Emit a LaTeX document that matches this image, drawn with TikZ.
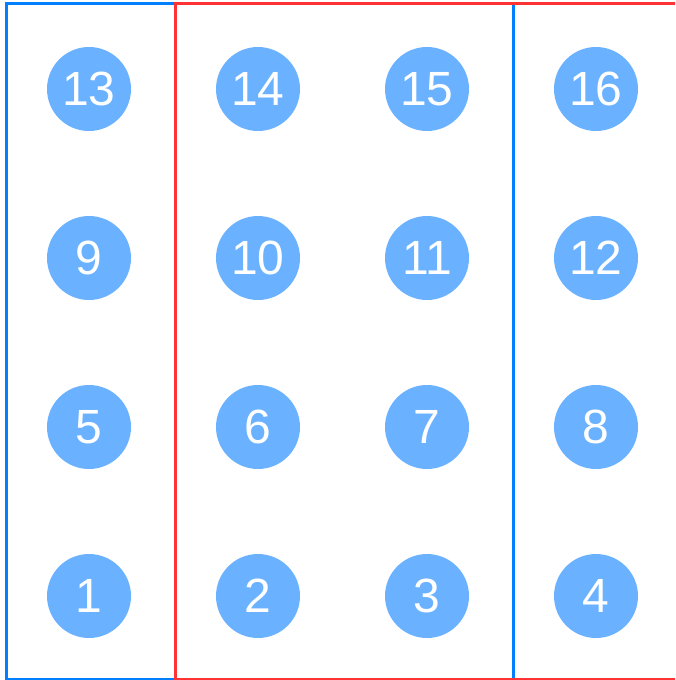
\documentclass[tikz,border=0pt]{standalone}
\usepackage{fontspec}
\setmainfont{Liberation Sans}
\usepackage{xcolor}
\usetikzlibrary{positioning}
\definecolor{gridblue}{RGB}{0,128,255}
\definecolor{gridred}{RGB}{255,51,51}
\definecolor{dotfill}{RGB}{106,178,255}
\tikzset{
  dot/.style      = {circle, fill=dotfill, draw=none, minimum size=84pt,
                     inner sep=0pt, text=white, font=\fontsize{48}{48}\selectfont},
  blueframe/.style = {draw=gridblue, line width=3pt},
  redframe/.style  = {draw=gridred, line width=3pt},
}

\begin{document}
\begin{tikzpicture}[x=1pt, y=-1pt]

\useasboundingbox (0,0) rectangle (675,680);
\clip (0,0) rectangle (675,680);

% ---------- Dots ----------
\foreach \row in {0,...,3} {
  \foreach \col in {0,...,3} {
    \pgfmathtruncatemacro{\num}{\row*4+\col+1}
    \node[dot] (c\num) at (89+169*\col, 596-169*\row) {\num};
  }
}

% ---------- Frames ----------
\draw[blueframe] (6,3) rectangle (513,679);
\draw[redframe] (175.5,3) rectangle (690,679);

\end{tikzpicture}
\end{document}
